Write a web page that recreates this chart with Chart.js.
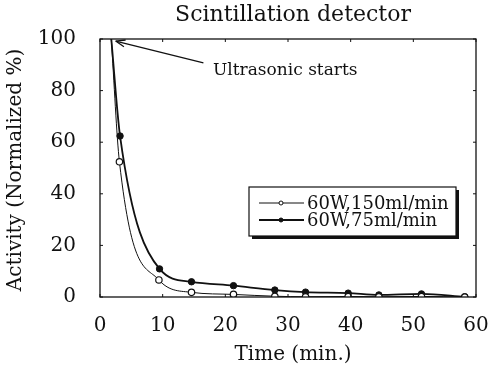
<!DOCTYPE html>
<html><head><meta charset="utf-8">
<script src="https://cdn.jsdelivr.net/npm/chart.js@4/dist/chart.umd.min.js"></script>
<style>html,body{margin:0;padding:0;background:#fff}#wrap{width:490px;height:373px}</style>
</head><body><div id="wrap"><canvas id="c" width="490" height="373"></canvas></div>
<script>
const titleText = "Scintillation detector";
const xTitle = "Time (min.)";
const yTitle = "Activity (Normalized %)";
const annotationText = "Ultrasonic starts";
const series150Label = "60W,150ml/min";
const series75Label = "60W,75ml/min";
const times150 = [1.8, 3.1, 9.4, 14.6, 21.3, 27.9, 32.8, 39.6, 44.5, 51.3, 58.2];
const values150 = [100, 52.4, 6.6, 1.8, 1.0, 0.3, 0.1, 0.2, 0.1, 0.2, 0.0];
const times75 = [1.8, 3.2, 9.5, 14.6, 21.3, 27.9, 32.8, 39.6, 44.5, 51.3, 58.2];
const values75 = [100, 62.4, 10.9, 5.9, 4.4, 2.7, 1.9, 1.5, 0.8, 1.2, 0.1];
const xTicks = [0, 10, 20, 30, 40, 50, 60];
const yTicks = [0, 20, 40, 60, 80, 100];
const arrowTip = {x: 2.5, y: 99.2};
const arrowTail = {x: 16.5, y: 90.7};

const FONT = "'DejaVu Serif', serif";
const toPts = (xs, ys) => xs.map((x, i) => ({x, y: ys[i]}));
const radii = n => Array.from({length: n}, (_, i) => i === 0 ? 0 : 3.2);

const decor = {
  id: 'decor',
  afterDraw(chart) {
    const {ctx, chartArea: a, scales: {x, y}} = chart;
    ctx.save();
    ctx.strokeStyle = '#111'; ctx.lineWidth = 1.3;
    ctx.strokeRect(a.left, a.top, a.right - a.left, a.bottom - a.top);
    ctx.lineWidth = 1;
    xTicks.forEach(v => { const px = x.getPixelForValue(v);
      ctx.beginPath(); ctx.moveTo(px, a.bottom); ctx.lineTo(px, a.bottom - 3);
      ctx.moveTo(px, a.top); ctx.lineTo(px, a.top + 3); ctx.stroke(); });
    yTicks.forEach(v => { const py = y.getPixelForValue(v);
      ctx.beginPath(); ctx.moveTo(a.left, py); ctx.lineTo(a.left + 3, py);
      ctx.moveTo(a.right, py); ctx.lineTo(a.right - 3, py); ctx.stroke(); });
    ctx.fillStyle = '#111';
    ctx.font = "22px " + FONT; ctx.textAlign = 'center'; ctx.textBaseline = 'middle';
    ctx.fillText(titleText, 293, 15);
    ctx.font = "20px " + FONT;
    ctx.fillText(xTitle, 293, 355);
    ctx.save(); ctx.translate(16, 170); ctx.rotate(-Math.PI / 2);
    ctx.fillText(yTitle, 0, 0); ctx.restore();
    const tx = x.getPixelForValue(arrowTip.x), ty = y.getPixelForValue(arrowTip.y);
    const sx = x.getPixelForValue(arrowTail.x), sy = y.getPixelForValue(arrowTail.y);
    ctx.lineWidth = 1.3;
    ctx.beginPath(); ctx.moveTo(sx, sy); ctx.lineTo(tx, ty); ctx.stroke();
    const ang = Math.atan2(ty - sy, tx - sx);
    ctx.beginPath();
    ctx.moveTo(tx, ty);
    ctx.lineTo(tx - 10 * Math.cos(ang - 0.35), ty - 10 * Math.sin(ang - 0.35));
    ctx.moveTo(tx, ty);
    ctx.lineTo(tx - 10 * Math.cos(ang + 0.35), ty - 10 * Math.sin(ang + 0.35));
    ctx.stroke();
    ctx.font = "17px " + FONT; ctx.textAlign = 'left';
    ctx.fillText(annotationText, 213, 71);
    const bx = 249, by = 187, bw = 207, bh = 49;
    ctx.fillStyle = '#fff'; ctx.fillRect(bx, by, bw, bh);
    ctx.fillStyle = '#111';
    ctx.fillRect(bx + 3, by + bh, bw, 3);
    ctx.fillRect(bx + bw, by + 3, 3, bh);
    ctx.lineWidth = 1.2; ctx.strokeRect(bx, by, bw, bh);
    chart.data.datasets.forEach((ds, i) => {
      const ly = by + 16 + i * 17;
      ctx.strokeStyle = '#111'; ctx.lineWidth = ds.borderWidth;
      ctx.beginPath(); ctx.moveTo(bx + 10, ly); ctx.lineTo(bx + 55, ly); ctx.stroke();
      ctx.beginPath(); ctx.arc(bx + 32, ly, 2, 0, Math.PI * 2);
      ctx.fillStyle = ds.pointBackgroundColor; ctx.fill();
      ctx.lineWidth = 1; ctx.stroke();
      ctx.fillStyle = '#111'; ctx.font = "18px " + FONT; ctx.textAlign = 'left';
      ctx.fillText(ds.label, bx + 58, ly + 1);
    });
    ctx.restore();
  }
};

new Chart(document.getElementById('c'), {
  type: 'line',
  data: { datasets: [
    { label: series150Label, data: toPts(times150, values150), borderColor: '#111', borderWidth: 1,
      pointBackgroundColor: '#fff', pointBorderColor: '#111', pointBorderWidth: 1.2,
      pointRadius: radii(times150.length), cubicInterpolationMode: 'monotone', tension: 0.4, fill: false },
    { label: series75Label, data: toPts(times75, values75), borderColor: '#111', borderWidth: 1.8,
      pointBackgroundColor: '#111', pointBorderColor: '#111', pointBorderWidth: 1,
      pointRadius: radii(times75.length), cubicInterpolationMode: 'monotone', tension: 0.4, fill: false }
  ]},
  options: {
    responsive: false, animation: false, devicePixelRatio: 1,
    layout: { padding: { left: 0, right: 0, top: 39, bottom: 0 } },
    plugins: { legend: { display: false }, title: { display: false }, tooltip: { enabled: false } },
    scales: {
      x: { type: 'linear', min: 0, max: 60,
        afterBuildTicks: s => { s.ticks = xTicks.map(v => ({value: v})); },
        afterFit: s => { s.height = 76; s.paddingRight = 14; s.paddingLeft = 0; },
        grid: { display: false }, border: { display: false },
        ticks: { color: '#111', padding: 9, font: { family: FONT, size: 20 } } },
      y: { type: 'linear', min: 0, max: 100,
        afterBuildTicks: s => { s.ticks = yTicks.map(v => ({value: v})); },
        afterFit: s => { s.width = 100; s.paddingTop = 0; s.paddingBottom = 0; },
        grid: { display: false }, border: { display: false },
        ticks: { color: '#111', padding: 16, font: { family: FONT, size: 20 } } }
    }
  },
  plugins: [decor]
});
</script></body></html>
